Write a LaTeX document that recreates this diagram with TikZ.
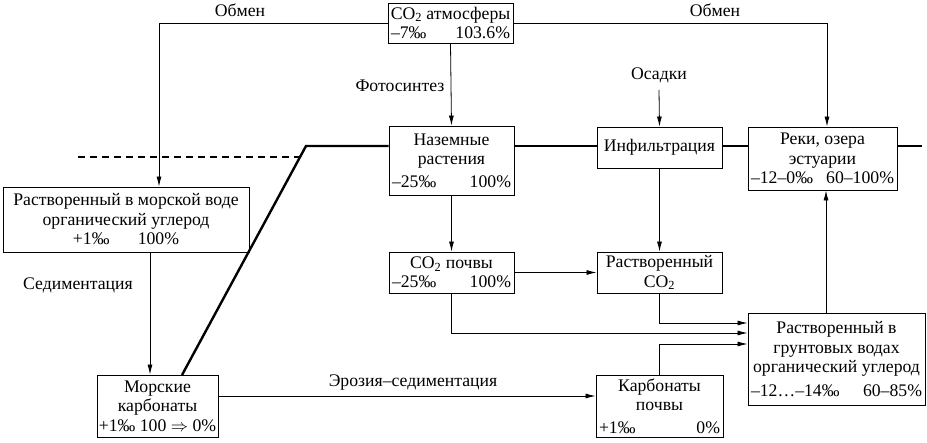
\documentclass[tikz,border=0pt]{standalone}
\usepackage{fontspec}
\setmainfont{Liberation Serif}
\usetikzlibrary{arrows.meta}
\newcommand{\lr}[3]{\makebox[#1]{#2\hfill#3}}
\begin{document}
\begin{tikzpicture}[x=1pt,y=-1pt,
  box/.style={draw, line width=0.9pt, inner sep=1pt, align=center, font=\fontsize{17.7}{19.5}\selectfont},
  lbl/.style={inner sep=0pt, font=\fontsize{17.7}{19.5}\selectfont},
  arr/.style={line width=0.8pt, -{Latex[length=10pt,width=5pt]}},
  ln/.style={line width=0.8pt},
  thk/.style={line width=2.4pt},
  dsh/.style={line width=2.2pt, dash pattern=on 7pt off 5pt}
  ]
\useasboundingbox (0,0) rectangle (927,443);

% boxes
\node[box, minimum width=125pt, minimum height=40pt] (atm) at (450.5,23)
  {CO\textsubscript{2} атмосферы\\\lr{119pt}{–7‰}{103.6\%}};
\node[box, minimum width=125pt, minimum height=69pt] (plants) at (451.5,160.5)
  {Наземные\\растения\\[3pt]\lr{119pt}{–25‰}{100\%}};
\node[box, minimum width=125pt, minimum height=41pt] (infil) at (659.5,147.5)
  {Инфильтрация};
\node[box, minimum width=149pt, minimum height=63pt] (rivers) at (822.5,158.5)
  {Реки, озера\\эстуарии\\\lr{143pt}{–12–0‰}{60–100\%}};
\node[box, minimum width=246pt, minimum height=65pt] (sea) at (126,219.5)
  {Растворенный в морской воде\\органический углерод\\+1‰\hspace{1.6em}100\%};
\node[box, minimum width=125pt, minimum height=41pt] (soilco2) at (451.5,272.5)
  {CO\textsubscript{2} почвы\\\lr{119pt}{–25‰}{100\%}};
\node[box, minimum width=125pt, minimum height=41pt] (dissco2) at (659.5,272.5)
  {Растворенный\\CO\textsubscript{2}};
\node[box, minimum width=177pt, minimum height=92pt] (ground) at (836.5,359)
  {Растворенный в\\грунтовых водах\\органический углерод\\[4pt]\lr{171pt}{–12…–14‰}{60–85\%}};
\node[box, minimum width=121pt, minimum height=62pt] (seacarb) at (157.5,406)
  {Морские\\карбонаты\\+1‰ 100 $\Rightarrow$ 0\%};
\node[box, minimum width=127pt, minimum height=62pt] (soilcarb) at (659.5,406)
  {Карбонаты\\почвы\\[3pt]\lr{121pt}{+1‰}{0\%}};

% labels
\node[lbl] (obm1) at (240,10) {Обмен};
\node[lbl] (obm2) at (715,10) {Обмен};
\node[lbl] (foto) at (400,86) {Фотосинтез};
\node[lbl] (osad) at (659,75) {Осадки};
\node[lbl] (sedi) at (78,285) {Седиментация};
\node[lbl] (eros) at (413,383) {Эрозия–седиментация};

% thick boundary line
\coordinate (k1) at (182,375);
\coordinate (k2) at (306,146);
\coordinate (kend) at (922,146);
\coordinate (d1) at (78,157);
\coordinate (d2) at (302,157);
\draw[dsh] (d1) -- (d2);
\draw[thk] (k1) -- (k2) -- (k2 -| plants.west);
\draw[thk] (k2 -| plants.east) -- (k2 -| infil.west);
\draw[thk] (k2 -| infil.east) -- (k2 -| rivers.west);
\draw[thk] (k2 -| rivers.east) -- (kend);

% connectors
\draw[arr] (atm.west) -| ([xshift=33pt]sea.north);
\draw[arr] (atm.east) -| ([xshift=4.5pt]rivers.north);
\draw[arr] (atm.south) -- (plants.north);
\draw[arr] ([yshift=-7pt]osad.south) -- (infil.north);
\draw[arr] (plants.south) -- (soilco2.north);
\draw[arr] (infil.south) -- (dissco2.north);
\draw[arr] (soilco2.east) -- (dissco2.west);
\draw[arr] (soilco2.south) |- ([yshift=26pt]ground.west);
\draw[arr] (dissco2.south) |- ([yshift=36pt]ground.west);
\draw[arr] (soilcarb.north) |- ([yshift=15pt]ground.west);
\draw[arr] ([xshift=-10.5pt]ground.north) -- ([xshift=-10.5pt]ground.north |- rivers.south);
\draw[arr] ([xshift=24pt]sea.south) -- ([xshift=24pt]sea.south |- seacarb.north);
\draw[arr] ([yshift=10pt]seacarb.east) -- ([yshift=10pt]seacarb.east -| soilcarb.west);
\end{tikzpicture}
\end{document}
